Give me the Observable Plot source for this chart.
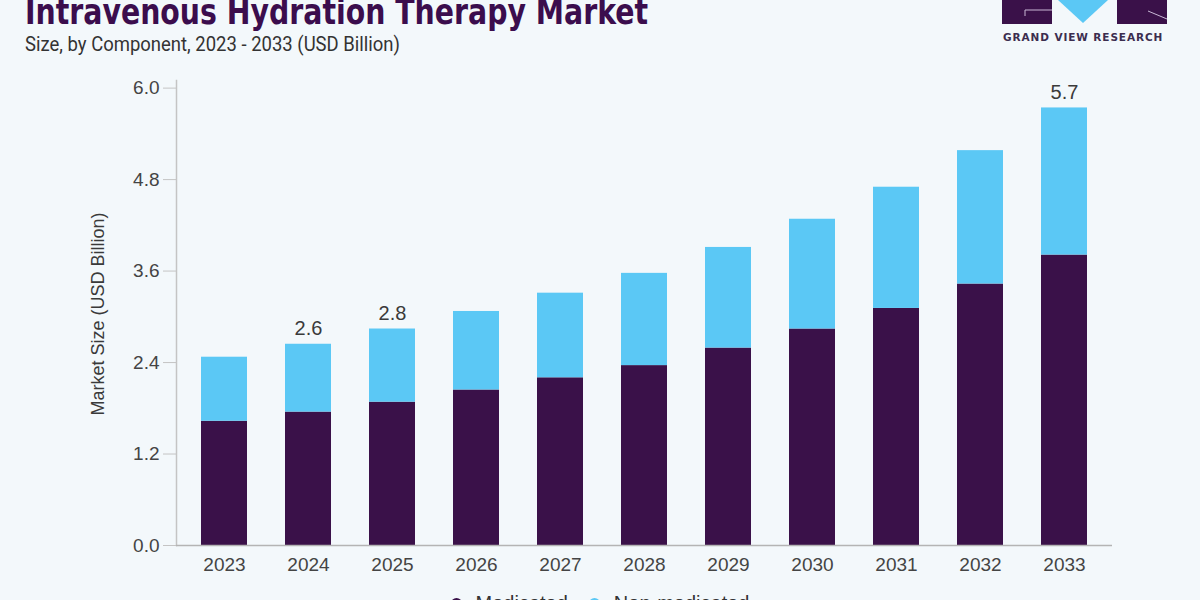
<!DOCTYPE html>
<html>
<head>
<meta charset="utf-8">
<script src="https://cdn.jsdelivr.net/npm/d3@7"></script>
<script src="https://cdn.jsdelivr.net/npm/@observablehq/plot@0.6"></script>
<style>
  html, body { margin: 0; padding: 0; }
  body { width: 1200px; height: 600px; overflow: hidden; background: #f3f8fb; position: relative; font-family: "Liberation Sans", Arial, sans-serif; }
  #title { position: absolute; left: 25px; top: -8px; font-family: "DejaVu Sans", sans-serif; font-stretch: condensed; font-weight: 900; font-size: 35px; color: #3b0d4d; white-space: nowrap; transform-origin: 0 0; }
  #subtitle { position: absolute; left: 25px; top: 32px; font-family: Roboto, "Liberation Sans", sans-serif; font-size: 20px; color: #333; white-space: nowrap; transform-origin: 0 0; }
  #logo { position: absolute; left: 1000px; top: 0; }
  #logo .name { position: absolute; left: 3px; top: 31px; width: 164px; font-family: "DejaVu Sans", sans-serif; font-weight: bold; font-size: 10.5px; letter-spacing: 0.9px; color: #3b2d4f; white-space: nowrap; }
  #chart { position: absolute; left: 0; top: 60px; }
  #ylabel { position: absolute; left: 98px; top: 314px; transform: translate(-50%, -50%) rotate(-90deg); font-size: 18px; color: #3a3a3a; white-space: nowrap; }
  #legend { position: absolute; left: 0; width: 1200px; top: 592px; display: flex; justify-content: center; gap: 21px; font-size: 20px; color: #333; }
  #legend span { display: inline-flex; align-items: center; gap: 14px; }
  #legend i { display: inline-block; width: 11px; height: 11px; border-radius: 50%; }
</style>
</head>
<body>
<div id="title">Intravenous Hydration Therapy Market</div>
<div id="subtitle">Size, by Component, 2023 - 2033 (USD Billion)</div>
<div id="logo">
  <svg width="170" height="30">
    <rect x="2" y="0" width="50" height="24" fill="#3a1149"/>
    <path d="M25 16 V10 H52" fill="none" stroke="#c9b8d6" stroke-width="1"/>
    <polygon points="58,0 108,0 83,23" fill="#5bc8f5"/>
    <rect x="117" y="0" width="50" height="24" fill="#3a1149"/>
    <path d="M148 11 L167 19" fill="none" stroke="#c9b8d6" stroke-width="1"/>
  </svg>
  <div class="name">GRAND VIEW RESEARCH</div>
</div>
<div id="chart"></div>
<div id="ylabel">Market Size (USD Billion)</div>
<div id="legend"></div>
<script>
// Market size by component, USD billion
const years = ["2023", "2024", "2025", "2026", "2027", "2028", "2029", "2030", "2031", "2032", "2033"];
const medicated = [1.63, 1.75, 1.88, 2.04, 2.20, 2.36, 2.59, 2.84, 3.11, 3.43, 3.81];
const nonMedicated = [0.84, 0.89, 0.96, 1.03, 1.11, 1.21, 1.32, 1.44, 1.59, 1.75, 1.93];
const components = ["Medicated", "Non-medicated"];
const componentColors = ["#3a1149", "#5bc8f5"];
const labeledYears = ["2024", "2025", "2033"];
const yTicks = [0, 1.2, 2.4, 3.6, 4.8, 6.0];

const rows = [];
years.forEach((year, i) => {
  rows.push({year, component: components[0], value: medicated[i]});
  rows.push({year, component: components[1], value: nonMedicated[i]});
});
const totals = years.map((year, i) => ({year, total: medicated[i] + nonMedicated[i]}));

const chart = Plot.plot({
  width: 1200,
  height: 530,
  marginTop: 20,
  marginBottom: 45,
  marginLeft: 176,
  marginRight: 88,
  style: {background: "transparent", fontFamily: "'Liberation Sans', Arial, sans-serif", fontSize: "19px", color: "#444"},
  x: {domain: years, paddingInner: 0.45, paddingOuter: 0.27, label: null},
  y: {domain: [0, 6.1], label: null},
  color: {domain: components, range: componentColors},
  marks: [
    Plot.frame({anchor: "left", stroke: "#c4c4c4", strokeWidth: 1.5}),
    Plot.axisY({ticks: yTicks, tickFormat: d => d.toFixed(1), tickSize: 13, tickPadding: 4, stroke: "#c4c4c4", fill: "#444", label: null, fontSize: 19}),
    Plot.axisX({tickSize: 0, tickPadding: 12, fill: "#444", label: null, fontSize: 19}),
    Plot.barY(rows, {x: "year", y: "value", fill: "component"}),
    Plot.ruleY([0], {stroke: "#b4b4b4", strokeWidth: 1.5}),
    Plot.text(totals.filter(d => labeledYears.includes(d.year)), {
      x: "year", y: "total", text: d => d.total.toFixed(1),
      lineAnchor: "bottom", dy: -9, fontSize: 20, fill: "#3a3a3a"
    })
  ]
});
document.getElementById("chart").appendChild(chart);

// legend
const legend = document.getElementById("legend");
components.forEach((c, i) => {
  const s = document.createElement("span");
  s.innerHTML = `<i style="background:${componentColors[i]}"></i>${c}`;
  legend.appendChild(s);
});

// fit heading widths
function fit(id, w) {
  const el = document.getElementById(id);
  const cur = el.getBoundingClientRect().width;
  el.style.transform = `scaleX(${w / cur})`;
}
fit("title", 623);
fit("subtitle", 375);
</script>
</body>
</html>
